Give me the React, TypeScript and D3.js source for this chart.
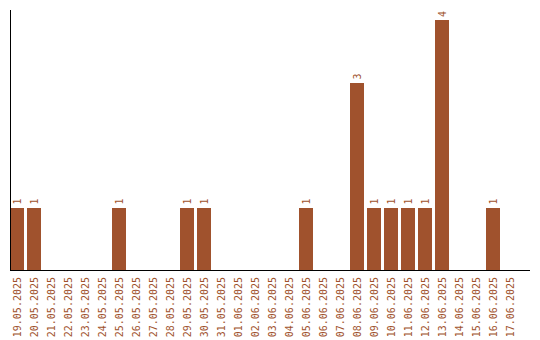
import React from "react";
import * as d3 from "d3";

const dates = [
  "19.05.2025", "20.05.2025", "21.05.2025", "22.05.2025", "23.05.2025",
  "24.05.2025", "25.05.2025", "26.05.2025", "27.05.2025", "28.05.2025",
  "29.05.2025", "30.05.2025", "31.05.2025", "01.06.2025", "02.06.2025",
  "03.06.2025", "04.06.2025", "05.06.2025", "06.06.2025", "07.06.2025",
  "08.06.2025", "09.06.2025", "10.06.2025", "11.06.2025", "12.06.2025",
  "13.06.2025", "14.06.2025", "15.06.2025", "16.06.2025", "17.06.2025",
];
const counts = [1, 1, 0, 0, 0, 0, 1, 0, 0, 0, 1, 1, 0, 0, 0, 0, 0, 1, 0, 0, 3, 1, 1, 1, 1, 4, 0, 0, 1, 0];

const W = 540;
const H = 340;
const COLOR = "#A0522D";
const FONT = "'DejaVu Sans Mono', monospace";

export default function App() {
  const x = d3.scaleBand<string>().domain(dates).range([10, 517]).paddingInner(3 / 17).paddingOuter(0);
  const y = d3.scaleLinear().domain([0, 4]).range([270, 20]);
  const base = y(0);
  return (
    <svg width={W} height={H} style={{ position: "absolute", left: 0, top: 0 }}>
      {dates.map((d, i) =>
        counts[i] > 0 ? (
          <g key={d}>
            <rect x={x(d)} y={y(counts[i])} width={x.bandwidth()} height={base - y(counts[i])} fill={COLOR} shapeRendering="crispEdges" />
            <text
              transform={`translate(${(x(d) as number) + x.bandwidth() / 2},${y(counts[i]) - 3}) rotate(-90)`}
              dy="0.35em"
              textAnchor="start"
              fontFamily={FONT}
              fontSize={10}
              fill={COLOR}
            >
              {counts[i]}
            </text>
          </g>
        ) : null
      )}
      <line x1={10.5} x2={10.5} y1={10} y2={base} stroke="#000" strokeWidth={1} shapeRendering="crispEdges" />
      <line x1={10} x2={530} y1={base + 0.5} y2={base + 0.5} stroke="#000" strokeWidth={1} shapeRendering="crispEdges" />
      {dates.map((d) => (
        <text
          key={"t" + d}
          transform={`translate(${(x(d) as number) + x.bandwidth() / 2},${base + 7}) rotate(-90)`}
          dy="0.35em"
          textAnchor="end"
          fontFamily={FONT}
          fontSize={10}
          fill={COLOR}
        >
          {d}
        </text>
      ))}
    </svg>
  );
}
